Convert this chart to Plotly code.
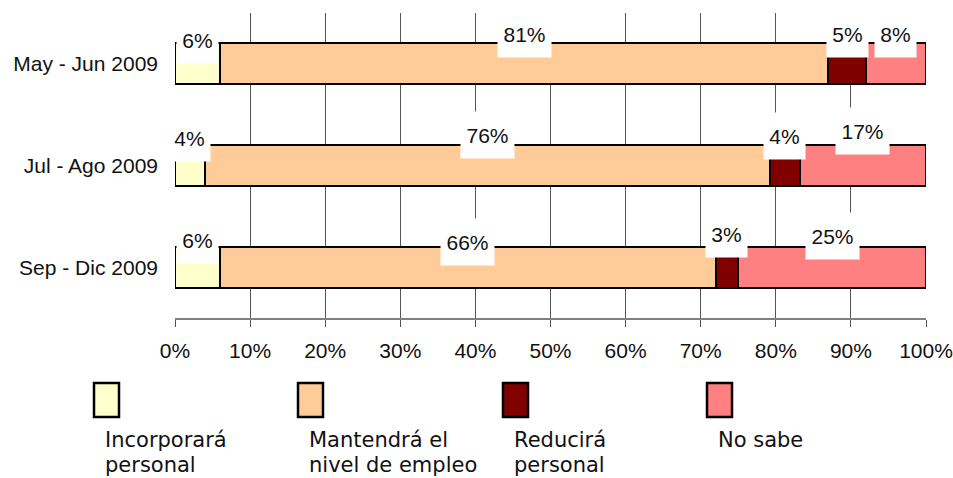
import plotly.graph_objects as go

categories = ["May - Jun 2009", "Jul - Ago 2009", "Sep - Dic 2009"]
series_names = ["Incorporará personal", "Mantendrá el nivel de empleo", "Reducirá personal", "No sabe"]
legend_lines = [["Incorporará", "personal"], ["Mantendrá el", "nivel de empleo"], ["Reducirá", "personal"], ["No sabe"]]
incorporara = [6, 4, 6]
mantendra = [81, 76, 66]
reducira = [5, 4, 3]
no_sabe = [8, 17, 25]
x_ticks = [0, 10, 20, 30, 40, 50, 60, 70, 80, 90, 100]

colors = ["#FFFFCC", "#FFCC99", "#800000", "#FF8080"]
series = [incorporara, mantendra, reducira, no_sabe]

# label vertical offsets (px above bar centre) per category / series
label_offsets = [
    [26, 32, 31.5, 31.5],
    [30, 33, 31.5, 36.5],
    [29.5, 27.5, 35, 33.5],
]

W, H = 953, 478
ML, MR, MT, MB = 175, 27, 13, 160
PW = W - ML - MR
PH = H - MT - MB

fig = go.Figure()
for name, vals, col in zip(series_names, series, colors):
    fig.add_trace(go.Bar(
        y=categories, x=vals, name=name, orientation="h",
        marker=dict(color=col, line=dict(color="black", width=2)),
        showlegend=False, hoverinfo="skip",
    ))

annotations = []
for ci, cat in enumerate(categories):
    vals = [s[ci] for s in series]
    tot = sum(vals)
    cum = 0
    for si, v in enumerate(vals):
        start = cum / tot * 100
        cum += v
        end = cum / tot * 100
        txt = f"{v}%"
        annotations.append(dict(
            x=(start + end) / 2, y=cat, xref="x", yref="y",
            text=txt, showarrow=False,
            font=dict(family="Liberation Sans, Arial", size=21, color="#111111"),
            bgcolor="white", borderpad=0,
            width=12 * len(txt) + 17, height=46,
            yshift=label_offsets[ci][si] - 2,
        ))

def py(p):
    return (MT + PH - p) / PH

def px(p):
    return (p - ML) / PW

# custom legend below the chart
sq_left = [94, 298, 503, 707]
line_mid = [440, 465]
for i, (lines, col) in enumerate(zip(legend_lines, colors)):
    fig.add_shape(type="rect", xref="paper", yref="paper",
                  x0=px(sq_left[i]), x1=px(sq_left[i] + 25), y0=py(383), y1=py(417),
                  fillcolor=col, line=dict(color="black", width=2.5), layer="above")
    for li, ln in enumerate(lines):
        annotations.append(dict(
            x=px(sq_left[i] + 10), y=py(line_mid[li]),
            xref="paper", yref="paper", xanchor="left", yanchor="middle",
            text=ln, showarrow=False, align="left", borderpad=0,
            font=dict(family="DejaVu Sans", size=21, color="#111111"),
        ))

fig.update_layout(
    width=W, height=H,
    margin=dict(l=ML, r=MR, t=MT, b=MB, autoexpand=False),
    barmode="stack", barnorm="percent", bargap=0.596,
    plot_bgcolor="white", paper_bgcolor="white",
    annotations=annotations,
    xaxis=dict(
        range=[0, 100], tickvals=x_ticks, ticktext=[f"{t}%" for t in x_ticks],
        showgrid=True, gridcolor="#555555", gridwidth=1,
        showline=True, linecolor="#808080", linewidth=2,
        ticks="outside", ticklen=7, tickcolor="#555555", tickwidth=1,
        ticklabelstandoff=6, automargin=False,
        tickfont=dict(family="Liberation Sans, Arial", size=21, color="#111111"),
        zeroline=False, fixedrange=True,
    ),
    yaxis=dict(
        categoryorder="array", categoryarray=categories,
        range=[2.5, -0.5], autorange=False,
        showgrid=False, showline=False, ticks="",
        ticklabelstandoff=16, automargin=False,
        tickfont=dict(family="Liberation Sans, Arial", size=21, color="#111111"),
        fixedrange=True,
    ),
)

fig.write_html(
    "out.html",
    config={"displayModeBar": False},
    post_script="document.body.style.margin='0';document.body.style.padding='0';document.body.style.overflow='hidden';",
)
